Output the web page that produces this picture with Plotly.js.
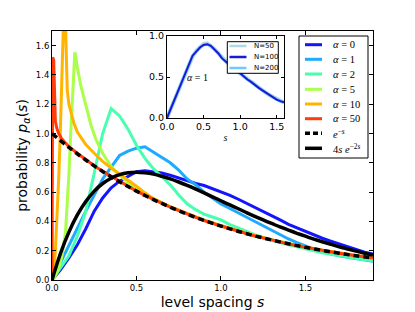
<!DOCTYPE html>
<html>
<head>
<meta charset="utf-8">
<script src="https://cdn.plot.ly/plotly-3.0.1.min.js"></script>
<style>html,body{margin:0;padding:0;background:#fff;}#chart{width:415px;height:312px;}</style>
</head>
<body>
<div id="chart"></div>
<script>
// ---- data ----
const sGrid = [0,0.05,0.1,0.15,0.2,0.25,0.3,0.35,0.4,0.45,0.5,0.55,0.6,0.65,0.7,0.75,0.8,0.85,0.9,0.95,1.0,1.05,1.1,1.15,1.2,1.25,1.3,1.35,1.4,1.45,1.5,1.55,1.6,1.65,1.7,1.75,1.8,1.85,1.9];

const pAlpha0 = [0,0.07,0.15,0.24,0.35,0.47,0.56,0.63,0.675,0.71,0.74,0.745,0.74,0.73,0.715,0.695,0.68,0.66,0.645,0.625,0.605,0.58,0.553,0.525,0.495,0.47,0.44,0.41,0.38,0.355,0.33,0.305,0.285,0.265,0.245,0.225,0.205,0.19,0.178];
const pAlpha1 = [0,0.12,0.24,0.35,0.47,0.58,0.69,0.77,0.85,0.88,0.90,0.91,0.875,0.84,0.80,0.75,0.69,0.65,0.60,0.56,0.52,0.49,0.46,0.425,0.395,0.365,0.335,0.305,0.28,0.255,0.23,0.21,0.19,0.175,0.165,0.155,0.145,0.135,0.128];
const pAlpha2 = [0,0.08,0.165,0.3,0.47,0.73,1.0,1.17,1.12,1.03,0.92,0.83,0.76,0.705,0.65,0.58,0.52,0.48,0.45,0.43,0.41,0.38,0.355,0.33,0.31,0.29,0.27,0.255,0.24,0.225,0.21,0.2,0.185,0.175,0.165,0.155,0.145,0.138,0.132];

const sAlpha5 = [0,0.02,0.04,0.06,0.08,0.09,0.1,0.11,0.12,0.13,0.135,0.14,0.15,0.17,0.2,0.23,0.26,0.3,0.35,0.4,0.45,0.5,0.55,0.6,0.65,0.7,0.75,0.8,0.9,1.0,1.1,1.2,1.3,1.4,1.5,1.6,1.7,1.8,1.9];
const pAlpha5 = [0,0.03,0.08,0.17,0.33,0.5,0.72,0.98,1.25,1.47,1.555,1.53,1.45,1.33,1.2,1.06,0.96,0.865,0.775,0.715,0.665,0.625,0.59,0.555,0.525,0.5,0.475,0.452,0.41,0.372,0.336,0.304,0.275,0.249,0.225,0.204,0.184,0.166,0.15];

const sAlpha10 = [0,0.01,0.02,0.03,0.04,0.05,0.06,0.07,0.08,0.085,0.09,0.1,0.115,0.13,0.15,0.2,0.25,0.3,0.35,0.4,0.45,0.5,0.55,0.6,0.7,0.8,0.9,1.0,1.1,1.2,1.3,1.4,1.5,1.6,1.7,1.8,1.9];
const pAlpha10 = [0,0.05,0.2,0.43,0.7,1.04,1.5,1.85,1.75,1.45,1.3,1.2,1.13,1.07,1.01,0.925,0.865,0.81,0.765,0.725,0.685,0.64,0.595,0.555,0.5,0.452,0.408,0.37,0.334,0.302,0.274,0.248,0.224,0.203,0.184,0.166,0.15];

const sAlpha50 = [0,0.004,0.01,0.014,0.02,0.03,0.04,0.06,0.08,0.1,0.15,0.2,0.25,0.3,0.4,0.5,0.6,0.7,0.8,0.9,1.0,1.1,1.2,1.3,1.4,1.5,1.6,1.7,1.8,1.9];
const pAlpha50 = [0,1.52,1.5,1.2,1.08,1.03,1.0,0.96,0.935,0.91,0.865,0.82,0.78,0.742,0.672,0.607,0.551,0.497,0.451,0.406,0.369,0.334,0.3,0.274,0.246,0.224,0.202,0.183,0.166,0.15];

const sPoisson = [0,0.1,0.2,0.3,0.4,0.5,0.6,0.7,0.8,0.9,1.0,1.1,1.2,1.3,1.4,1.5,1.6,1.7,1.8,1.9];
const pPoisson = [1.0,0.905,0.819,0.741,0.670,0.607,0.549,0.497,0.449,0.407,0.368,0.333,0.301,0.273,0.247,0.223,0.202,0.183,0.165,0.150];

const pSemiPoisson = [0,0.181,0.327,0.444,0.536,0.607,0.659,0.695,0.719,0.732,0.736,0.732,0.723,0.708,0.690,0.669,0.646,0.621,0.595,0.568,0.541,0.514,0.488,0.461,0.435,0.410,0.386,0.362,0.340,0.319,0.299,0.279,0.261,0.244,0.227,0.212,0.197,0.183,0.170];

// inset (alpha = 1, different N)
const sInset = [0,0.05,0.1,0.15,0.2,0.25,0.3,0.35,0.4,0.45,0.5,0.55,0.6,0.65,0.7,0.75,0.8,0.85,0.9,0.95,1.0,1.05,1.1,1.15,1.2,1.25,1.3,1.35,1.4,1.45,1.5,1.55,1.6];
const pN50  = [0,0.11,0.22,0.33,0.44,0.56,0.67,0.75,0.82,0.86,0.9,0.91,0.88,0.84,0.79,0.74,0.69,0.65,0.61,0.575,0.545,0.505,0.47,0.44,0.4,0.37,0.34,0.31,0.28,0.255,0.228,0.206,0.19];
const pN100 = [0,0.11,0.22,0.33,0.44,0.55,0.66,0.76,0.81,0.86,0.89,0.9,0.88,0.84,0.79,0.73,0.69,0.65,0.61,0.575,0.545,0.505,0.47,0.44,0.4,0.37,0.34,0.31,0.28,0.255,0.225,0.205,0.19];
const pN200 = [0,0.11,0.22,0.33,0.44,0.55,0.66,0.76,0.81,0.86,0.89,0.895,0.88,0.84,0.79,0.73,0.69,0.65,0.61,0.575,0.545,0.505,0.47,0.44,0.4,0.37,0.34,0.31,0.28,0.255,0.225,0.205,0.19];

const seriesNames = ['α = 0','α = 1','α = 2','α = 5','α = 10','α = 50'];
const seriesColors = ['#1414ff','#1eaaff','#48ffb0','#aaff48','#ffb400','#ff3c0a'];
const insetNames = ['N=50','N=100','N=200'];
const insetColors = ['#add8e6','#1a1ad6','#72c8fa'];

// ---- traces ----
const xs = [sGrid, sGrid, sGrid, sAlpha5, sAlpha10, sAlpha50];
const ys = [pAlpha0, pAlpha1, pAlpha2, pAlpha5, pAlpha10, pAlpha50];
const traces = [];
for (let i = 0; i < 6; i++) {
  traces.push({x: xs[i], y: ys[i], type: 'scatter', mode: 'lines', name: seriesNames[i],
    line: {color: seriesColors[i], width: 3}, cliponaxis: true, showlegend: false});
}
traces.push({x: sPoisson, y: pPoisson, type: 'scatter', mode: 'lines', name: 'e^-s',
  line: {color: '#000', width: 3.5, dash: '6px,4px', shape: 'spline'}, showlegend: false});
traces.push({x: sGrid, y: pSemiPoisson, type: 'scatter', mode: 'lines', name: '4s e^-2s',
  line: {color: '#000', width: 3.5, shape: 'spline'}, showlegend: false});

// inset: N=50 (wide, light), N=200 (light sky), N=100 (blue) on top
const insetYs = [pN50, pN100, pN200];
const insetW = [4, 2, 2.6];
[0, 2, 1].forEach(i => {
  traces.push({x: sInset, y: insetYs[i], xaxis: 'x2', yaxis: 'y2', type: 'scatter', mode: 'lines',
    name: insetNames[i], line: {color: insetColors[i], width: insetW[i]}, showlegend: false});
});

// ---- layout helpers (pixel -> paper) ----
const L = 52, R = 373, T = 31, B = 280;
const px = v => (v - L) / (R - L);
const py = v => (B - v) / (B - T);
const serif = "'Liberation Serif', 'DejaVu Serif', serif";
const sans = "'DejaVu Sans', sans-serif";

const shapes = [];
const annotations = [];

// main legend
shapes.push({type: 'rect', xref: 'paper', yref: 'paper', x0: px(299), x1: px(368), y0: py(36), y1: py(158),
  line: {color: '#000', width: 1}, fillcolor: '#fff', layer: 'above'});
const legLabels = ['<i>α</i> = 0','<i>α</i> = 1','<i>α</i> = 2','<i>α</i> = 5','<i>α</i> = 10','<i>α</i> = 50',
  '<i>e</i><sup>−<i>s</i></sup>','4<i>s</i> <i>e</i><sup>−2<i>s</i></sup>'];
const legRows = [44.7, 59.3, 74, 89.3, 104, 118.7, 133.3, 148.3];
for (let i = 0; i < 8; i++) {
  const col = i < 6 ? seriesColors[i] : '#000';
  shapes.push({type: 'line', xref: 'paper', yref: 'paper', x0: px(305), x1: px(322), y0: py(legRows[i]), y1: py(legRows[i]),
    line: {color: col, width: i < 6 ? 3 : 3.5, dash: i === 6 ? '5px,3px' : 'solid'}, layer: 'above'});
  annotations.push({xref: 'paper', yref: 'paper', x: px(331), y: py(legRows[i]), xanchor: 'left', yanchor: 'middle',
    text: legLabels[i], showarrow: false, font: {family: serif, size: 10.5, color: '#000'}});
}

// inset legend
shapes.push({type: 'rect', xref: 'paper', yref: 'paper', x0: px(227.3), x1: px(278.3), y0: py(41.7), y1: py(73.3),
  line: {color: '#000', width: 1}, fillcolor: '#fff', layer: 'above'});
const inRows = [46, 57, 68];
for (let i = 0; i < 3; i++) {
  shapes.push({type: 'line', xref: 'paper', yref: 'paper', x0: px(229.5), x1: px(246.5), y0: py(inRows[i]), y1: py(inRows[i]),
    line: {color: insetColors[i], width: 2.5}, layer: 'above'});
  annotations.push({xref: 'paper', yref: 'paper', x: px(251.5), y: py(inRows[i]), xanchor: 'left', yanchor: 'middle',
    text: insetNames[i], showarrow: false, font: {family: sans, size: 7, color: '#000'}});
}
annotations.push({xref: 'x2', yref: 'y2', x: 0.42, y: 0.5, text: '<i>α</i> = 1', showarrow: false,
  font: {family: serif, size: 10, color: '#000'}});

const tickFontMain = {family: sans, size: 8.5, color: '#000'};
const tickFontInset = {family: sans, size: 9.5, color: '#000'};

const layout = {
  width: 415, height: 312, autosize: false,
  margin: {l: L, r: 415 - R, t: T, b: 312 - B},
  paper_bgcolor: '#fff', plot_bgcolor: '#fff',
  showlegend: false,
  xaxis: {range: [0, 1.9], domain: [0, 1], tickvals: [0, 0.5, 1.0, 1.5], tickformat: '.1f',
    ticks: 'inside', ticklen: 4, tickcolor: '#000', showline: true, linecolor: '#000', linewidth: 1,
    mirror: 'ticks', showgrid: false, zeroline: false, tickfont: tickFontMain,
    title: {text: 'level spacing <i>s</i>',
      font: {family: sans, size: 14, color: '#000'}, standoff: 4}},
  yaxis: {range: [0, 1.7], domain: [0, 1], dtick: 0.2, tick0: 0, tickformat: '.1f',
    ticks: 'inside', ticklen: 4, tickcolor: '#000', showline: true, linecolor: '#000', linewidth: 1,
    mirror: 'ticks', showgrid: false, zeroline: false, tickfont: tickFontMain,
    title: {text: 'probability <i>p</i><sub><i>α</i></sub>(<i>s</i>)',
      font: {family: sans, size: 14, color: '#000'}, standoff: 4}},
  xaxis2: {range: [0, 1.6], domain: [px(167), px(284)], anchor: 'y2', tickvals: [0, 0.5, 1.0, 1.5], tickformat: '.1f',
    ticks: 'inside', ticklen: 3, tickcolor: '#000', showline: true, linecolor: '#000', linewidth: 1,
    mirror: 'ticks', showgrid: false, zeroline: false, tickfont: tickFontInset,
    title: {text: '<i>s</i>', font: {family: serif, size: 10, color: '#000'}, standoff: 2}},
  yaxis2: {range: [0, 1.0], domain: [py(118), py(36)], anchor: 'x2', tickvals: [0, 0.5, 1.0], tickformat: '.1f',
    ticks: 'inside', ticklen: 3, tickcolor: '#000', showline: true, linecolor: '#000', linewidth: 1,
    mirror: 'ticks', showgrid: false, zeroline: false, tickfont: tickFontInset},
  shapes: shapes,
  annotations: annotations
};

Plotly.newPlot('chart', traces, layout, {displayModeBar: false, staticPlot: true});
</script>
</body>
</html>
